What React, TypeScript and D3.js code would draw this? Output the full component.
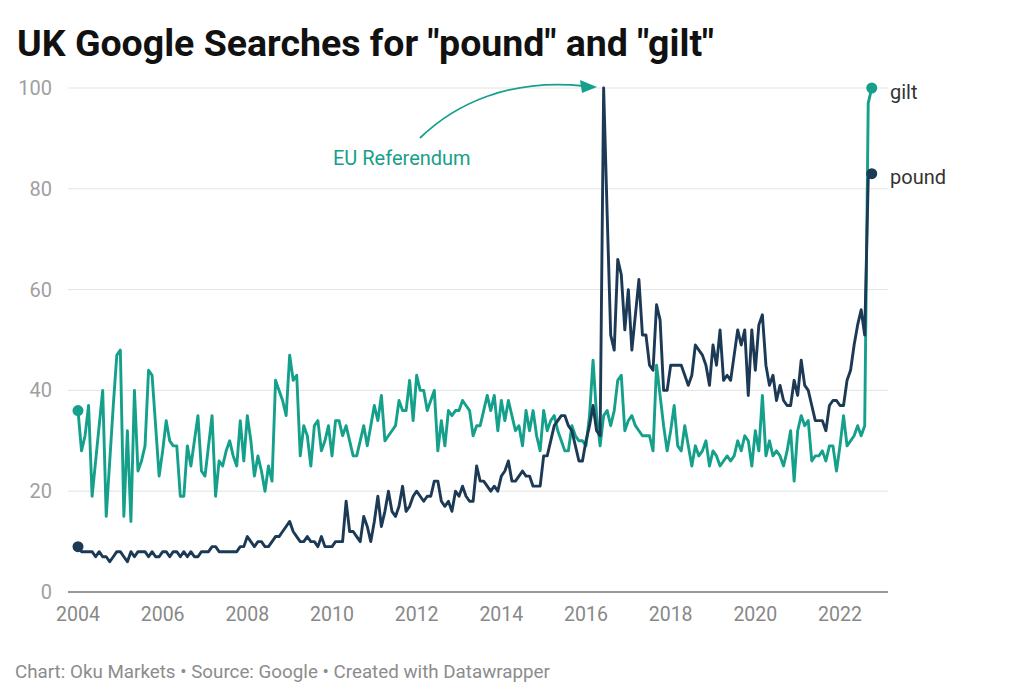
import React from "react";
import * as d3 from "d3";

// Monthly Google Trends index, Jan 2004 .. Oct 2022
const pound: number[] = [
  9, 8, 8, 8, 8, 7, 8, 7, 7, 6, 7, 8,
  8, 7, 6, 8, 7, 8, 8, 8, 7, 8, 7, 7,
  8, 8, 7, 8, 8, 7, 8, 7, 8, 7, 7, 8,
  8, 8, 9, 9, 8, 8, 8, 8, 8, 8, 9, 9,
  11, 10, 9, 10, 10, 9, 9, 10, 11, 11, 12, 13,
  14, 12, 11, 10, 10, 11, 10, 10, 9, 11, 9, 9,
  9, 10, 10, 10, 18, 12, 12, 11, 10, 15, 13, 10,
  14, 19, 13, 16, 20, 16, 15, 17, 21, 16, 17, 19,
  20, 19, 18, 19, 19, 22, 22, 18, 17, 18, 16, 20,
  19, 21, 19, 18, 18, 25, 22, 22, 21, 20, 21, 20,
  23, 24, 26, 22, 22, 23, 24, 23, 23, 21, 21, 21,
  27, 27, 30, 33, 34, 35, 35, 33, 32, 29, 26, 26,
  30, 33, 37, 32, 31, 100, 75, 51, 48, 66, 63, 52,
  60, 48, 55, 62, 51, 51, 45, 44, 57, 54, 40, 40,
  45, 45, 45, 45, 43, 41, 43, 49, 48, 47, 45, 41,
  49, 45, 52, 42, 43, 42, 47, 52, 49, 52, 39, 52,
  44, 53, 55, 45, 41, 43, 38, 41, 38, 37, 37, 42,
  39, 46, 41, 40, 37, 34, 34, 34, 32, 37, 38, 38,
  37, 37, 42, 44, 49, 53, 56, 51, 82, 83,
];

const gilt: number[] = [
  36, 28, 31, 37, 19, 26, 33, 40, 15, 26, 37, 47,
  48, 15, 32, 14, 40, 24, 26, 29, 44, 43, 33, 23,
  28, 34, 30, 29, 29, 19, 19, 29, 25, 30, 35, 24,
  23, 29, 35, 19, 26, 25, 28, 30, 27, 25, 34, 26,
  35, 30, 23, 27, 24, 20, 25, 22, 42, 40, 38, 35,
  47, 42, 43, 27, 33, 31, 25, 33, 34, 28, 30, 33,
  27, 34, 34, 31, 33, 30, 27, 27, 30, 33, 29, 33,
  37, 34, 39, 30, 31, 32, 33, 38, 36, 36, 42, 34,
  43, 40, 40, 36, 38, 40, 28, 34, 29, 36, 35, 36,
  36, 38, 37, 36, 31, 33, 33, 36, 39, 36, 39, 32,
  38, 34, 38, 35, 32, 33, 29, 36, 32, 36, 31, 28,
  36, 32, 34, 35, 32, 30, 28, 28, 33, 31, 30, 30,
  29, 35, 46, 35, 29, 35, 36, 33, 36, 42, 43, 32,
  34, 35, 33, 32, 31, 31, 31, 28, 45, 39, 33, 28,
  32, 37, 29, 28, 33, 29, 25, 29, 27, 28, 30, 25,
  28, 27, 25, 26, 27, 26, 27, 30, 28, 31, 30, 25,
  32, 28, 39, 27, 30, 27, 28, 27, 25, 28, 32, 22,
  32, 35, 33, 34, 26, 27, 27, 28, 26, 29, 29, 24,
  29, 35, 29, 30, 31, 33, 31, 33, 97, 100,
];

const yearTicks: number[] = [2004, 2006, 2008, 2010, 2012, 2014, 2016, 2018, 2020, 2022];
const yTicks: number[] = [0, 20, 40, 60, 80, 100];

const TEAL = "#15a08c";
const NAVY = "#1c3a56";

export default function App() {
  const W = 1024;
  const H = 699;
  // x domain in months since Jan 2004
  const x = d3.scaleLinear().domain([0, 216]).range([78, 840]);
  const y = d3.scaleLinear().domain([0, 100]).range([592, 88]);
  const gridX0 = 68;
  const gridX1 = 888;

  const line = d3
    .line<number>()
    .x((_, i) => x(i))
    .y((d) => y(d))
    .curve(d3.curveLinear);

  const lastP = pound.length - 1;
  const lastG = gilt.length - 1;

  const arrowPath = "M420,138 C455,104 510,78 584,86";
  const font = "Roboto, 'Noto Sans', sans-serif";

  return (
    <svg
      width={W}
      height={H}
      style={{ position: "absolute", left: 0, top: 0, background: "#fff" }}
      fontFamily={font}
    >
      <text x={17} y={56} fontSize={37.5} fontWeight={700} fill="#111">
        UK Google Searches for "pound" and "gilt"
      </text>

      {yTicks.map((t) => (
        <g key={t}>
          <line
            x1={gridX0}
            x2={gridX1}
            y1={y(t)}
            y2={y(t)}
            stroke={t === 0 ? "#333" : "#e3e3e3"}
            strokeWidth={1}
          />
          <text
            x={52}
            y={y(t)}
            dy="0.35em"
            textAnchor="end"
            fontSize={20}
            fill="#a0a0a0"
          >
            {t}
          </text>
        </g>
      ))}

      {yearTicks.map((yr) => (
        <text
          key={yr}
          x={x((yr - 2004) * 12)}
          y={621}
          textAnchor="middle"
          fontSize={19.5}
          fill="#888"
        >
          {yr}
        </text>
      ))}

      <path d={line(gilt) || ""} fill="none" stroke={TEAL} strokeWidth={2.9} strokeLinejoin="round" />
      <path d={line(pound) || ""} fill="none" stroke={NAVY} strokeWidth={2.9} strokeLinejoin="round" />

      <circle cx={x(0)} cy={y(gilt[0])} r={5.5} fill={TEAL} />
      <circle cx={x(0)} cy={y(pound[0])} r={5.5} fill={NAVY} />
      <circle cx={x(lastG)} cy={y(gilt[lastG])} r={5.5} fill={TEAL} />
      <circle cx={x(lastP)} cy={y(pound[lastP])} r={5.5} fill={NAVY} />

      <text x={890} y={y(gilt[lastG]) + 4} dy="0.35em" fontSize={20} fill="#333">
        gilt
      </text>
      <text x={890} y={y(pound[lastP]) + 3} dy="0.35em" fontSize={20} fill="#333">
        pound
      </text>

      <path d={arrowPath} fill="none" stroke={TEAL} strokeWidth={1.8} />
      <polygon points="597,87 580,80 582,93" fill={TEAL} />
      <text x={333} y={165} fontSize={20} fill={TEAL}>
        EU Referendum
      </text>

      <text x={15} y={678} fontSize={18.8} fill="#8c8c8c">
        Chart: Oku Markets • Source: Google • Created with Datawrapper
      </text>
    </svg>
  );
}
